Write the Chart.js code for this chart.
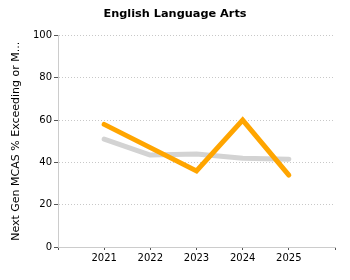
<!DOCTYPE html>
<html>
<head>
<meta charset="utf-8">
<script src="https://cdn.jsdelivr.net/npm/chart.js@4/dist/chart.umd.min.js"></script>
<style>
html,body{margin:0;padding:0;background:#fff;}
#wrap{width:350px;height:280px;position:relative;}
</style>
</head>
<body>
<div id="wrap"><canvas id="c" width="350" height="280"></canvas></div>
<script>
const categories = ['', '2021', '2022', '2023', '2024', '2025', ''];
const schoolValues = [null, 58, 47, 36, 60, 34, null];
const stateValues = [null, 51, 43.5, 44, 42, 41.5, null];
const yTicks = [0, 20, 40, 60, 80, 100];
const chartTitle = 'English Language Arts';
const yTitle = 'Next Gen MCAS % Exceeding or M...';

const FONT = "'DejaVu Sans', Verdana, sans-serif";

new Chart(document.getElementById('c'), {
  type: 'line',
  data: {
    labels: categories,
    datasets: [
      {
        label: 'School',
        data: schoolValues,
        borderColor: '#FFA500',
        borderWidth: 5,
        borderCapStyle: 'round',
        borderJoinStyle: 'miter',
        pointRadius: 0,
        tension: 0,
        fill: false,
        order: 0
      },
      {
        label: 'State',
        data: stateValues,
        borderColor: '#D3D3D3',
        borderWidth: 5,
        borderCapStyle: 'round',
        borderJoinStyle: 'round',
        pointRadius: 0,
        tension: 0,
        fill: false,
        order: 1
      }
    ]
  },
  options: {
    responsive: false,
    animation: false,
    devicePixelRatio: 1,
    layout: { padding: 0 },
    plugins: {
      legend: { display: false },
      tooltip: { enabled: false },
      title: {
        display: true,
        text: chartTitle,
        color: '#000',
        font: { family: FONT, size: 11.3, weight: 'bold' },
        padding: { top: 7, bottom: 15 }
      }
    },
    scales: {
      x: {
        type: 'category',
        offset: false,
        grid: {
          drawOnChartArea: false,
          drawTicks: true,
          tickLength: 3,
          tickColor: '#555',
          tickWidth: 1
        },
        border: { color: '#ccc', width: 1 },
        ticks: {
          color: '#000',
          font: { family: FONT, size: 10 },
          padding: 2,
          maxRotation: 0,
          autoSkip: false
        },
        afterFit: (s) => { s.height = 33; }
      },
      y: {
        min: 0,
        max: 100,
        afterBuildTicks: (s) => { s.ticks = yTicks.map(v => ({ value: v })); },
        grid: {
          color: '#c8c8c8',
          lineWidth: 1,
          drawTicks: true,
          tickLength: 4,
          tickColor: '#555',
          tickBorderDash: []
        },
        border: { color: '#ccc', width: 1, dash: [1, 2] },
        ticks: {
          color: '#000',
          font: { family: FONT, size: 10 },
          padding: 2
        },
        title: {
          display: true,
          text: yTitle,
          color: '#000',
          font: { family: FONT, size: 11 },
          padding: { top: 10, bottom: 0 }
        },
        afterFit: (s) => { s.width = 58; }
      },
      yRight: {
        position: 'right',
        display: true,
        min: 0,
        max: 100,
        grid: { display: false, drawTicks: false },
        border: { display: false },
        ticks: { display: false },
        afterFit: (s) => { s.width = 15; }
      }
    }
  }
});
</script>
</body>
</html>
